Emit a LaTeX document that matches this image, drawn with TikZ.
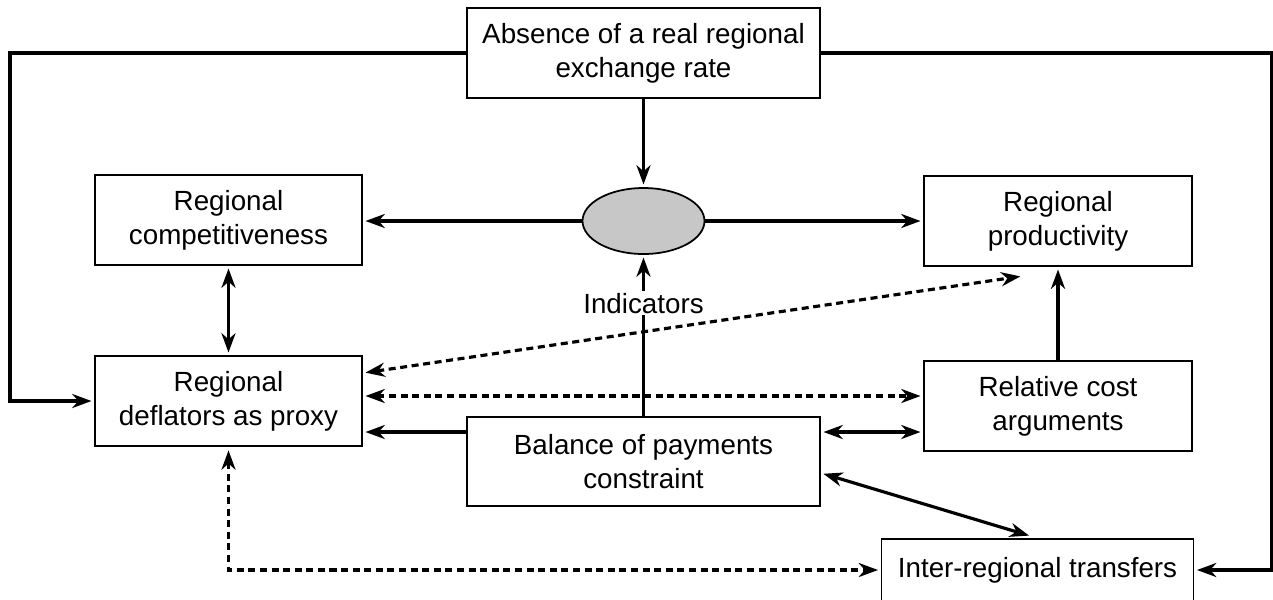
\documentclass[tikz,border=0pt]{standalone}
\usepackage{fontspec}
\setmainfont{Liberation Sans}
\usepackage{tikz}
\usetikzlibrary{arrows.meta,shapes.geometric}
\tikzset{
  box/.style = {draw, rectangle, align=center, inner sep=0pt,
    line width=1pt, minimum height=1.8cm,
    font=\fontsize{15.8}{19.3}\selectfont},% boite de texte
  hub/.style = {draw, ellipse, fill=black!22, line width=1pt,
    minimum width=2.44cm, minimum height=1.32cm, inner sep=0pt},% ovale gris
  link/.style = {line width=1.8pt, shorten >=1.5pt},
  dlink/.style = {link, dash pattern=on 4pt off 2.6pt}
}

\begin{document}
\begin{tikzpicture}[x=0.02cm, y=-0.02cm,
  >={Stealth[length=11pt,width=8pt,inset=3.5pt]}]
\useasboundingbox (0,0) rectangle (1273,599);
\node [box, minimum width=7.06cm] (absence) at (643.5,53)
  {Absence of a real regional\\exchange rate};
\node [hub] (hub) at (643.5,221) {};
\node [box, minimum width=5.34cm] (compet) at (228.5,220)
  {Regional\\competitiveness};
\node [box, minimum width=5.36cm] (prod) at (1058,221)
  {Regional\\productivity};
\node [box, minimum width=5.34cm] (deflat) at (228.5,401)
  {Regional\\deflators as proxy};
\node [box, minimum width=5.36cm] (relcost) at (1058,406)
  {Relative cost\\arguments};
\node [box, minimum width=7.06cm, minimum height=1.78cm] (balance) at (643.5,461.5)
  {Balance of payments\\constraint};
\node [box, minimum width=6.24cm, minimum height=1.24cm] (transfer) at (1037.5,570)
  {Inter-regional transfers};
\coordinate (lcorner) at (10,53);
\coordinate (rcorner) at (1272,53);
\coordinate (prodtip) at (1023,276);

\draw [link,->] (absence) -- (hub);
\draw [link,->] (hub.west) -- (hub.west -| compet.east);
\draw [link,->] (hub.east) -- (hub.east -| prod.west);
\draw [link,<->,shorten <=1.5pt] (compet) -- (deflat);
\draw [link,->] (absence.west) -- (lcorner) |- (deflat.west);
\draw [link,->] (absence.east) -- (rcorner) |- (transfer.east);
\draw [link,->] (relcost) -- (prod);
\draw [link,->] (balance) -- (hub)
  node [pos=0.7, fill=white, inner sep=1pt, font=\fontsize{15.8}{18}\selectfont] (indic) {Indicators};
% pointilles
\draw [dlink,<->,shorten <=1.5pt] ([yshift=0.56cm]deflat.east) -- (prodtip);
\draw [dlink,<->,shorten <=1.5pt] ([yshift=0.1cm]deflat.east) -- ([yshift=0.1cm]deflat.east -| relcost.west);
\draw [dlink,<->,shorten <=2pt] (deflat.south) |- (transfer.west);
% balance des paiements
\draw [link,->] ([yshift=0.59cm]balance.west) -- ([yshift=0.59cm]balance.west -| deflat.east);
\draw [link,<->,shorten <=1.5pt] ([yshift=0.59cm]balance.east) -- ([yshift=0.59cm]balance.east -| relcost.west);
\draw [link,<->,shorten <=1.5pt, shorten >=5pt] ([yshift=-0.23cm]balance.east) -- (transfer.north);
\end{tikzpicture}
\end{document}
